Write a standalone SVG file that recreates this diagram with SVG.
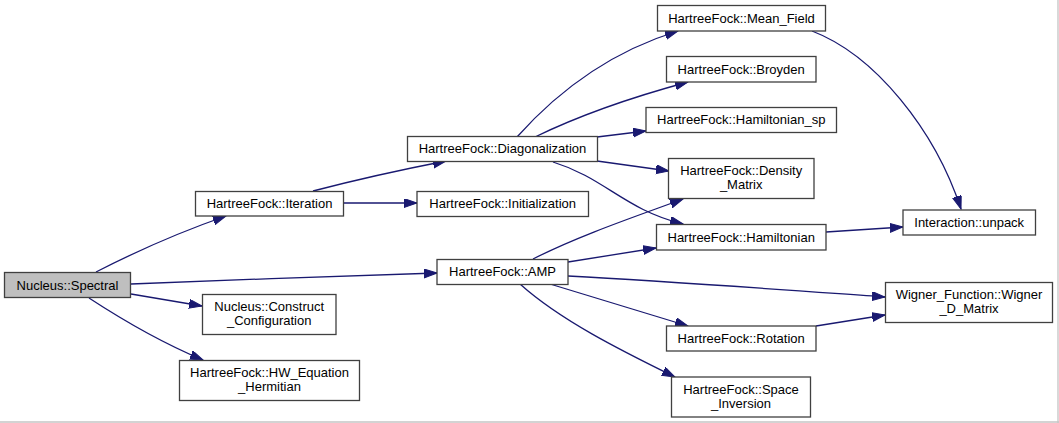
<svg xmlns="http://www.w3.org/2000/svg" width="1059" height="423" viewBox="0 0 1059 423">
<style>
.n rect{fill:#ffffff;stroke:#404040;stroke-width:1.3}
.n.root rect{fill:#bfbfbf}
.n text{font-family:"Liberation Sans",Arial,sans-serif;font-size:13px;fill:#000000;text-anchor:middle}
.e path{fill:none;stroke:#191970;stroke-width:1.3;marker-end:url(#ah)}
</style>
<defs>
<marker id="ah" markerUnits="userSpaceOnUse" markerWidth="14" markerHeight="10" refX="13" refY="4.5" orient="auto">
<path d="M0,0 L13,4.5 L0,9 z" fill="#191970" stroke="#191970" stroke-width="1"/>
</marker>
</defs>
<rect x="0" y="0" width="1059" height="423" fill="#ffffff"/>
<line x1="0" y1="422" x2="1059" y2="422" stroke="#c4c4c4" stroke-width="1.3"/>
<line x1="1058" y1="0" x2="1058" y2="423" stroke="#c4c4c4" stroke-width="1.3"/>
<g id="edges" class="e">
<path d="M96,272 C135,252 180,232 226,216"/>
<path d="M131,284 C230,280 340,276 437,273"/>
<path d="M131,294 L202,306"/>
<path d="M89,298 C115,315 160,342 203,360"/>
<path d="M313,191 C355,180 400,170 446,161"/>
<path d="M343,203 L417,203"/>
<path d="M517,137 C550,100 600,55 678,31"/>
<path d="M535,137 C580,115 640,95 688,82"/>
<path d="M597,137 L646,131"/>
<path d="M597,161 L669,171"/>
<path d="M553,162 C605,178 625,210 683,224"/>
<path d="M533,259 C580,235 640,215 683,199"/>
<path d="M568,262 L656,248"/>
<path d="M568,276 C680,282 800,291 885,297"/>
<path d="M550,284 L688,326"/>
<path d="M520,284 C560,320 620,350 675,377"/>
<path d="M826,232 L903,227"/>
<path d="M812,31 C875,55 935,130 961,209"/>
<path d="M816,326 L885,315"/>
</g>
<g id="n_spectral" class="n root"><rect x="4.5" y="272.5" width="126" height="25"/><text x="67.5" y="289.5">Nucleus::Spectral</text></g>
<g id="n_iteration" class="n"><rect x="195.5" y="191.5" width="148" height="24.5"/><text x="269.5" y="208">HartreeFock::Iteration</text></g>
<g id="n_construct" class="n"><rect x="202.5" y="294.5" width="133.5" height="40"/><text x="269.2" y="311">Nucleus::Construct</text><text x="269.2" y="325">_Configuration</text></g>
<g id="n_hw" class="n"><rect x="179.5" y="360.5" width="180" height="40"/><text x="269.5" y="377">HartreeFock::HW_Equation</text><text x="269.5" y="391">_Hermitian</text></g>
<g id="n_diag" class="n"><rect x="407.5" y="136.5" width="190" height="25"/><text x="502.5" y="153">HartreeFock::Diagonalization</text></g>
<g id="n_init" class="n"><rect x="417" y="191.5" width="171.5" height="25"/><text x="502.7" y="208">HartreeFock::Initialization</text></g>
<g id="n_amp" class="n"><rect x="437" y="259.5" width="131" height="25"/><text x="502.5" y="276">HartreeFock::AMP</text></g>
<g id="n_meanfield" class="n"><rect x="657.5" y="5.5" width="168" height="25.5"/><text x="741.5" y="22.5">HartreeFock::Mean_Field</text></g>
<g id="n_broyden" class="n"><rect x="666.5" y="56.5" width="149.5" height="25.5"/><text x="741.2" y="73.5">HartreeFock::Broyden</text></g>
<g id="n_hsp" class="n"><rect x="646" y="107.5" width="190.5" height="25"/><text x="741.2" y="124">HartreeFock::Hamiltonian_sp</text></g>
<g id="n_density" class="n"><rect x="668.5" y="158.5" width="145.5" height="40"/><text x="741.2" y="175">HartreeFock::Density</text><text x="741.2" y="189">_Matrix</text></g>
<g id="n_ham" class="n"><rect x="656.5" y="224.5" width="169.5" height="25.5"/><text x="741.2" y="241.5">HartreeFock::Hamiltonian</text></g>
<g id="n_unpack" class="n"><rect x="903" y="210" width="132.5" height="25"/><text x="969.2" y="226.5">Interaction::unpack</text></g>
<g id="n_wigner" class="n"><rect x="885.5" y="282.5" width="167" height="40"/><text x="969" y="299">Wigner_Function::Wigner</text><text x="969" y="313">_D_Matrix</text></g>
<g id="n_rotation" class="n"><rect x="666.5" y="326" width="149.5" height="25"/><text x="741.2" y="342.5">HartreeFock::Rotation</text></g>
<g id="n_space" class="n"><rect x="671.5" y="377" width="139" height="40"/><text x="741" y="393.5">HartreeFock::Space</text><text x="741" y="407.5">_Inversion</text></g>
</svg>
